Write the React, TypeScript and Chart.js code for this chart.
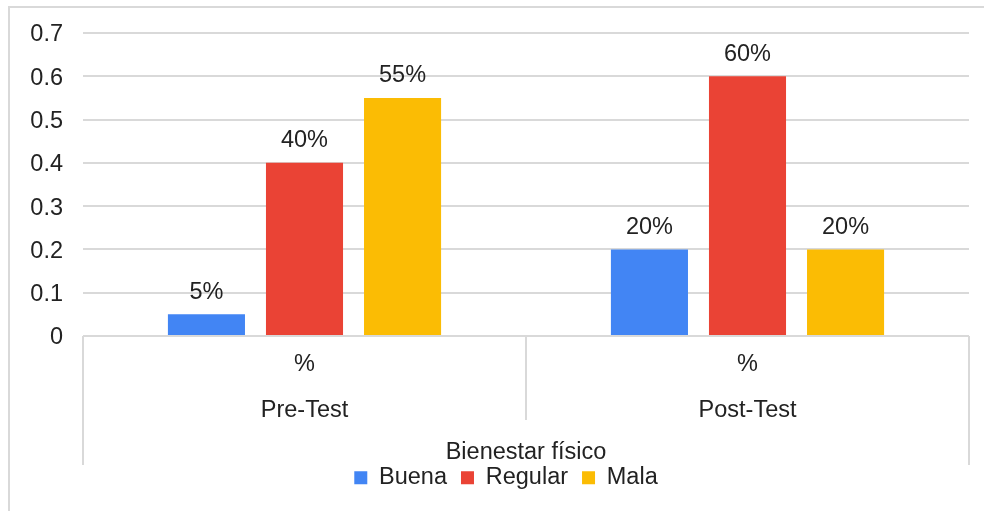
import React, { useEffect, useRef } from 'react';
import { Chart, registerables } from 'chart.js';

Chart.register(...registerables);

const groups = ['Pre-Test', 'Post-Test'];
const subLabel = '%';
const axisTitle = 'Bienestar físico';
const seriesNames = ['Buena', 'Regular', 'Mala'];
const buena = [0.05, 0.2];
const regular = [0.4, 0.6];
const mala = [0.55, 0.2];
const seriesColors = ['#4285F4', '#EA4335', '#FBBC04'];
const yTickLabels = ['0', '0.1', '0.2', '0.3', '0.4', '0.5', '0.6', '0.7'];

const FONT = "'Liberation Sans', Arial, sans-serif";
const TEXT = '#222222';
const GRID = '#d9d9d9';
const FS = 23.5;

const overlayPlugin = {
  id: 'overlay',
  afterDatasetsDraw(chart: any) {
    const ctx = chart.ctx;
    ctx.save();
    ctx.font = `${FS}px ${FONT}`;
    ctx.fillStyle = TEXT;
    ctx.textAlign = 'center';
    ctx.textBaseline = 'middle';
    chart.data.datasets.forEach((ds: any, di: number) => {
      const meta = chart.getDatasetMeta(di);
      meta.data.forEach((bar: any, i: number) => {
        const v = ds.data[i];
        ctx.fillText(Math.round(v * 100) + '%', bar.x, bar.y - 22);
      });
    });
    ctx.restore();
  },
  afterDraw(chart: any) {
    const ctx = chart.ctx;
    const xs = chart.scales.x;
    const area = chart.chartArea;
    ctx.save();
    ctx.strokeStyle = GRID;
    ctx.lineWidth = 2;
    const mid = (xs.getPixelForValue(0) + xs.getPixelForValue(1)) / 2;
    const lines: [number, number][] = [
      [area.left, area.bottom + 129],
      [mid, area.bottom + 84],
      [area.right, area.bottom + 129],
    ];
    lines.forEach(([x, yb]) => {
      ctx.beginPath();
      ctx.moveTo(Math.round(x), area.bottom);
      ctx.lineTo(Math.round(x), yb);
      ctx.stroke();
    });
    ctx.restore();
  },
};

export default function App() {
  const ref = useRef<HTMLCanvasElement | null>(null);

  useEffect(() => {
    if (!ref.current) return;
    const seriesData = [buena, regular, mala];
    const chart = new Chart(ref.current, {
      type: 'bar',
      data: {
        labels: groups.map((g) => [subLabel, g]),
        datasets: seriesNames.map((name, i) => ({
          label: name,
          data: seriesData[i],
          backgroundColor: seriesColors[i],
          borderWidth: 0,
          categoryPercentage: 0.664,
          barPercentage: 0.786,
        })),
      },
      options: {
        responsive: false,
        animation: false,
        layout: { padding: { top: 25, right: -18, left: 0, bottom: 11.5 } },
        plugins: {
          tooltip: { enabled: false },
          legend: {
            position: 'bottom',
            labels: {
              boxWidth: 13,
              boxHeight: 13,
              padding: 14,
              color: TEXT,
              font: { family: FONT, size: FS },
            },
          },
        },
        scales: {
          x: {
            grid: { display: false, drawTicks: false },
            border: { display: false },
            ticks: {
              color: TEXT,
              padding: 6,
              font: { family: FONT, size: FS, lineHeight: 46 / FS },
              maxRotation: 0,
            },
            title: {
              display: true,
              text: axisTitle,
              color: TEXT,
              font: { family: FONT, size: FS, lineHeight: 1.2 },
              padding: { top: 0, bottom: -15.1 },
            },
            afterFit: (s: any) => {
              s.height = 116;
            },
          },
          y: {
            min: 0,
            max: 0.7,
            grid: { color: GRID, lineWidth: 2, drawTicks: false },
            border: { display: false },
            ticks: {
              stepSize: 0.1,
              padding: 20,
              labelOffset: 2,
              color: TEXT,
              font: { family: FONT, size: FS },
              callback: (v: any) => yTickLabels[Math.round(Number(v) * 10)],
            },
            afterFit: (s: any) => {
              s.width = 73;
              s.paddingTop = 10;
              s.paddingBottom = 10;
            },
          },
          yRight: {
            position: 'right',
            min: 0,
            max: 1,
            grid: { display: false, drawTicks: false },
            border: { display: false },
            ticks: { display: false },
            afterFit: (s: any) => {
              s.width = 33;
              s.paddingTop = 0;
              s.paddingBottom = 0;
            },
          },
        },
      },
      plugins: [overlayPlugin],
    });
    return () => chart.destroy();
  }, []);

  return (
    <div
      style={{
        position: 'absolute',
        left: 8,
        top: 6,
        width: 974,
        height: 503,
        borderTop: `2px solid ${GRID}`,
        borderLeft: `2px solid ${GRID}`,
        background: '#fff',
      }}
    >
      <canvas ref={ref} width={974} height={503} style={{ display: 'block' }} />
    </div>
  );
}
